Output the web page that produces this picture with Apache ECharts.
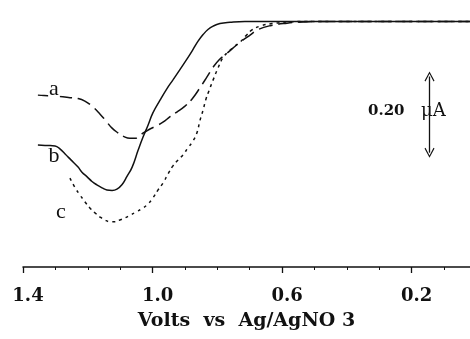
<!DOCTYPE html>
<html><head><meta charset="utf-8">
<script src="https://cdn.jsdelivr.net/npm/echarts@6/dist/echarts.min.js"></script>
<style>html,body{margin:0;padding:0;background:#fff}#c{width:470px;height:339px}</style>
</head><body><div id="c"></div>
<script>
// Curve a (long dashes)
const voltsA = [1.354,1.335,1.310,1.277,1.255,1.230,1.209,1.187,1.162,1.144,1.125,1.107,1.088,1.070,1.054,1.039,1.023,1.008,0.989,0.968,0.946,0.925,0.900,0.878,0.854,0.832,0.813,0.795,0.773,0.752,0.730,0.699,0.674,0.637,0.585,0.536,0.483,0.2,0.02];
const currentA = [-0.174,-0.175,-0.176,-0.178,-0.180,-0.182,-0.188,-0.200,-0.219,-0.235,-0.252,-0.263,-0.272,-0.276,-0.276,-0.268,-0.261,-0.254,-0.247,-0.238,-0.225,-0.214,-0.200,-0.183,-0.157,-0.131,-0.108,-0.091,-0.077,-0.063,-0.049,-0.032,-0.019,-0.010,-0.004,-0.001,0,0,0];
// Curve b (solid)
const voltsB = [1.354,1.326,1.301,1.286,1.270,1.252,1.230,1.218,1.202,1.187,1.172,1.156,1.141,1.125,1.110,1.094,1.079,1.063,1.045,1.030,1.014,0.999,0.977,0.955,0.937,0.915,0.894,0.875,0.860,0.844,0.829,0.813,0.792,0.761,0.715,0.4,0.2,0.02];
const currentB = [-0.292,-0.293,-0.294,-0.301,-0.313,-0.327,-0.344,-0.356,-0.367,-0.378,-0.386,-0.393,-0.398,-0.399,-0.396,-0.385,-0.366,-0.344,-0.305,-0.274,-0.245,-0.216,-0.186,-0.158,-0.138,-0.113,-0.089,-0.066,-0.047,-0.031,-0.019,-0.011,-0.005,-0.002,0,0,0,0];
// Curve c (short dashes)
const voltsC = [1.255,1.239,1.224,1.209,1.193,1.178,1.162,1.147,1.131,1.116,1.101,1.085,1.070,1.051,1.030,1.014,0.999,0.983,0.968,0.952,0.937,0.921,0.906,0.891,0.875,0.863,0.854,0.844,0.835,0.826,0.813,0.798,0.783,0.767,0.749,0.730,0.712,0.693,0.668,0.631,0.576,0.529,0.4,0.2,0.02];
const currentC = [-0.370,-0.393,-0.410,-0.426,-0.441,-0.452,-0.462,-0.469,-0.473,-0.473,-0.469,-0.464,-0.458,-0.450,-0.441,-0.431,-0.417,-0.398,-0.382,-0.360,-0.341,-0.327,-0.315,-0.299,-0.282,-0.263,-0.235,-0.209,-0.183,-0.164,-0.138,-0.110,-0.086,-0.072,-0.060,-0.049,-0.034,-0.020,-0.011,-0.005,-0.001,0,0,0,0];

const majorTicks = [1.4, 1.0, 0.6, 0.2];
const minorTicks = [1.3, 1.2, 1.1, 0.9, 0.8, 0.7, 0.5, 0.4, 0.3, 0.1];
const curveNames = ['a', 'b', 'c'];
const axisTitle = 'Volts  vs  Ag/AgNO 3';
const scaleBarVolts = 0.145;
const scaleBarCurrent = [-0.13, -0.31];
const scaleBarValue = '0.20';
const scaleBarUnit = 'μA';

const pairs = (xs, ys) => xs.map((v, i) => [v, ys[i]]);
const chevron = 'path://M5,0 L10,10 L9,10.8 L5,2.4 L1,10.8 L0,10 Z';

const chart = echarts.init(document.getElementById('c'), null, {renderer: 'canvas'});
const serif = 'DejaVu Serif';
chart.setOption({
  animation: false,
  backgroundColor: '#fff',
  grid: {left: 23, right: 0, top: 13, bottom: 72},
  xAxis: [{
    type: 'value', inverse: true, min: 0.02, max: 1.4,
    axisLine: {show: true, onZero: false, lineStyle: {color: '#111', width: 1.5}},
    axisTick: {show: true, customValues: majorTicks, length: 6, lineStyle: {color: '#111', width: 1.3}},
    axisLabel: {customValues: majorTicks, formatter: v => v.toFixed(1), fontFamily: serif, fontWeight: 'bold', fontSize: 18, color: '#111', margin: 20, padding: [0, 0, 0, 10]},
    splitLine: {show: false},
    name: axisTitle, nameLocation: 'middle', nameGap: 45,
    nameTextStyle: {fontFamily: serif, fontWeight: 'bold', fontSize: 19, color: '#111'}
  }, {
    type: 'value', inverse: true, min: 0.02, max: 1.4, position: 'bottom',
    axisLine: {show: false, onZero: false},
    axisTick: {show: true, customValues: minorTicks, length: 3, lineStyle: {color: '#111', width: 1}},
    axisLabel: {show: false},
    splitLine: {show: false}
  }],
  yAxis: {type: 'value', min: -0.58, max: 0.02, show: false},
  series: [
    {name: curveNames[0], type: 'line', data: pairs(voltsA, currentA), showSymbol: false, smooth: 0.45,
     lineStyle: {color: '#111', width: 1.5, type: [14, 6]}},
    {name: curveNames[1], type: 'line', data: pairs(voltsB, currentB), showSymbol: false, smooth: 0.45,
     lineStyle: {color: '#111', width: 1.5}},
    {name: curveNames[2], type: 'line', data: pairs(voltsC, currentC), showSymbol: false, smooth: 0.45,
     lineStyle: {color: '#111', width: 1.5, type: [3, 4]}},
    {name: 'scale', type: 'line', data: [], silent: true,
     markLine: {silent: true, symbol: [chevron, chevron], symbolSize: [10, 10],
       label: {show: false},
       lineStyle: {color: '#111', width: 1.3, type: 'solid'},
       data: [[{coord: [scaleBarVolts, scaleBarCurrent[0]]}, {coord: [scaleBarVolts, scaleBarCurrent[1]]}]]}}
  ],
  graphic: [
    {type: 'text', z: 100, x: 54, y: 89, style: {text: curveNames[0], font: '22px "Liberation Serif"', fill: '#111', align: 'center', verticalAlign: 'middle', backgroundColor: '#fff', padding: [0, 1, 0, 1]}},
    {type: 'text', z: 100, x: 54, y: 156, style: {text: curveNames[1], font: '22px "Liberation Serif"', fill: '#111', align: 'center', verticalAlign: 'middle'}},
    {type: 'text', z: 100, x: 61, y: 212, style: {text: curveNames[2], font: '22px "Liberation Serif"', fill: '#111', align: 'center', verticalAlign: 'middle'}},
    {type: 'text', z: 100, x: 368, y: 111, style: {text: scaleBarValue, font: 'bold 15px "DejaVu Serif"', fill: '#111', align: 'left', verticalAlign: 'middle'}},
    {type: 'text', z: 100, x: 421, y: 111, style: {text: scaleBarUnit, font: '18px "DejaVu Serif"', fill: '#111', align: 'left', verticalAlign: 'middle'}}
  ]
});
</script>
</body></html>
